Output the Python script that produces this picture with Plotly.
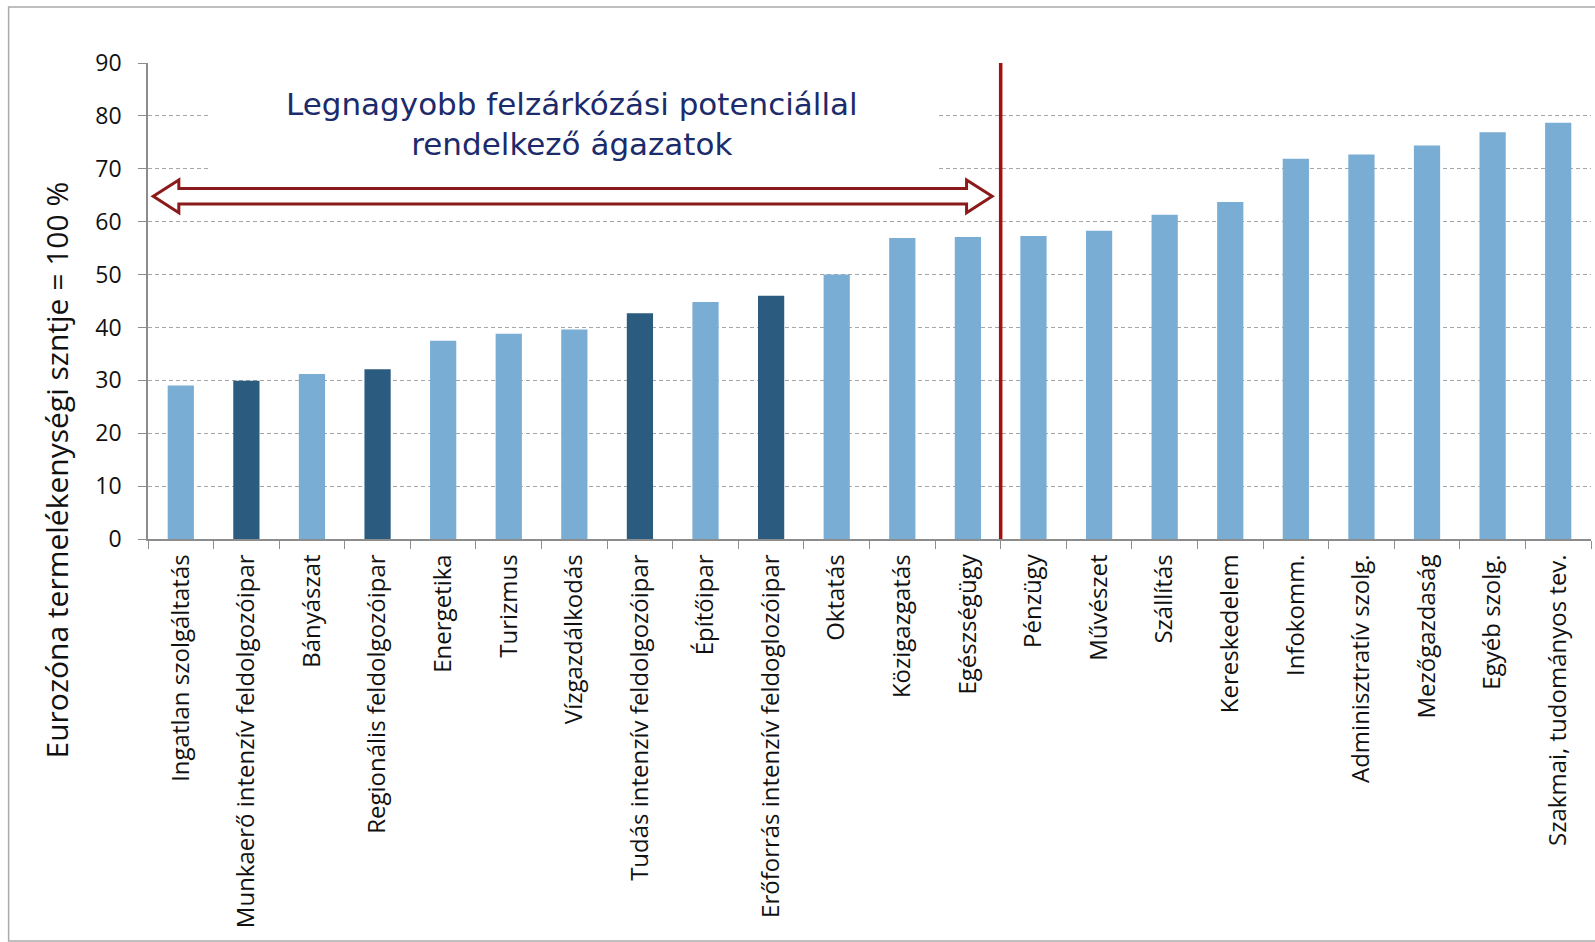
import plotly.graph_objects as go

sectors = ['Ingatlan szolgáltatás', 'Munkaerő intenzív feldolgozóipar', 'Bányászat',
           'Regionális feldolgozóipar', 'Energetika', 'Turizmus', 'Vízgazdálkodás',
           'Tudás intenzív feldolgozóipar', 'Építőipar', 'Erőforrás intenzív feldoglozóipar',
           'Oktatás', 'Közigazgatás', 'Egészségügy', 'Pénzügy', 'Művészet', 'Szállítás',
           'Kereskedelem', 'Infokomm.', 'Adminisztratív szolg.', 'Mezőgazdaság',
           'Egyéb szolg.', 'Szakmai, tudományos tev.']
productivity = [29.0, 29.9, 31.2, 32.1, 37.5, 38.8, 39.6, 42.7, 44.8, 46.0, 50.0,
                56.9, 57.1, 57.3, 58.3, 61.3, 63.7, 71.9, 72.7, 74.4, 76.9, 78.7]
manufacturing = ['Munkaerő intenzív feldolgozóipar', 'Regionális feldolgozóipar',
                 'Tudás intenzív feldolgozóipar', 'Erőforrás intenzív feldoglozóipar']
y_ticks = [0, 10, 20, 30, 40, 50, 60, 70, 80, 90]

LIGHT = '#7aadd4'
DARK = '#2b5b7e'
colors = [DARK if s in manufacturing else LIGHT for s in sectors]

fig = go.Figure(go.Bar(x=sectors, y=productivity, marker_color=colors,
                       marker_line_width=0, width=0.4))

# white box behind the caption hides the gridlines
fig.add_shape(type='rect', xref='x', yref='y', x0=0.42, x1=11.52, y0=68.5, y1=88.5,
              fillcolor='white', line_width=0, layer='between')

# double headed block arrow
yc, sh, hh = 64.8, 1.45, 3.1
xl, xr, hl = -0.42, 12.37, 0.39
arrow = (f'M {xl},{yc} L {xl+hl},{yc+hh} L {xl+hl},{yc+sh} L {xr-hl},{yc+sh} '
         f'L {xr-hl},{yc+hh} L {xr},{yc} L {xr-hl},{yc-hh} L {xr-hl},{yc-sh} '
         f'L {xl+hl},{yc-sh} L {xl+hl},{yc-hh} Z')
fig.add_shape(type='path', xref='x', yref='y', path=arrow, fillcolor='white',
              line=dict(color='#8b1a1a', width=3))

# separator line
fig.add_shape(type='line', xref='x', yref='y', x0=12.5, x1=12.5, y0=-0.8, y1=90,
              line=dict(color='#a50f0f', width=3.5))

# outer frame
fig.add_shape(type='rect', xref='paper', yref='paper', x0=-0.0966, x1=1.004,
              y0=-0.8445, y1=1.1176, line=dict(color='#aaaaaa', width=1.5))

fig.add_annotation(x=5.97, y=78.5, xref='x', yref='y', showarrow=False,
                   text='Legnagyobb felzárkózási potenciállal<br>rendelkező ágazatok',
                   font=dict(family='DejaVu Sans', size=31, color='#1c2b6b'))

fig.add_annotation(x=-0.0634, y=0.145, xref='paper', yref='paper', showarrow=False,
                   xanchor='center', yanchor='middle',
                   textangle=-90, text='Eurozóna termelékenységi szntje = 100 %',
                   font=dict(family='Open Sans', size=30, color='#111111'))

fig.update_layout(
    width=1595, height=942,
    margin=dict(l=147.5, r=4, t=63, b=403),
    plot_bgcolor='white', paper_bgcolor='white',
    showlegend=False,
    font=dict(family='Open Sans', color='#111111'),
)
fig.update_xaxes(
    type='category', tickangle=-90, tickfont=dict(size=24), ticklabelstandoff=4,
    showline=True, linecolor='#8c8c8c', linewidth=1.5,
    ticks='outside', tickson='boundaries', ticklen=8, tickcolor='#8c8c8c',
    showgrid=False, automargin=False, range=[-0.5, 21.5],
)
fig.update_yaxes(
    range=[0, 90], tickvals=y_ticks, tickfont=dict(size=23), ticklabelstandoff=12,
    showline=True, linecolor='#8c8c8c', linewidth=1.5,
    ticks='outside', ticklen=8, tickcolor='#8c8c8c',
    showgrid=True, gridcolor='#a6a6a6', gridwidth=1, griddash='4px,3px',
    zeroline=False, automargin=False,
)

fig.write_html('out.html', config={'displayModeBar': False},
               post_script="document.body.style.margin='0';")
